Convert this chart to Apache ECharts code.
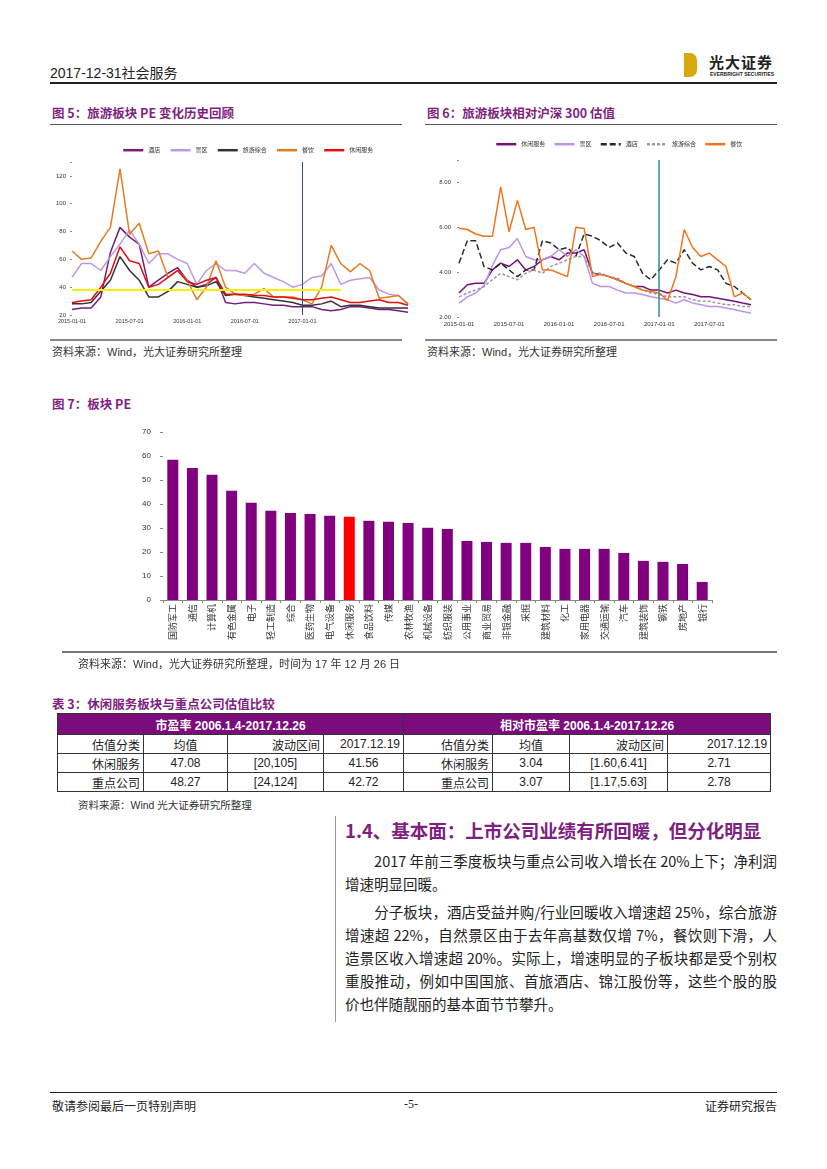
<!DOCTYPE html>
<html><head><meta charset="utf-8">
<script src="https://cdn.jsdelivr.net/npm/echarts@6/dist/echarts.min.js"></script>
<style>
body{margin:0;width:827px;height:1169px;background:#fff;position:relative;font-family:"Liberation Sans","Noto Sans CJK SC",sans-serif;color:#222;overflow:hidden}
.a{position:absolute;white-space:nowrap}
.ttl{font-family:"Noto Sans CJK SC";font-weight:bold;color:#7F1F7F;font-size:12.5px}
.src{font-family:"Liberation Sans","Noto Sans CJK SC";font-size:11px;color:#333}
.hl{position:absolute;height:1px;background:#555}
table{border-collapse:collapse;position:absolute;left:57px;top:713px;width:713px;table-layout:fixed;font-size:12px}
td{border:1px solid #333;padding:0 3px;height:18px;font-family:"Liberation Sans","Noto Sans CJK SC";white-space:nowrap}
td.h{background:#7B0C7B;color:#fff;font-weight:bold;text-align:center;height:20px;font-family:"Liberation Sans Narrow","Liberation Sans","Noto Sans CJK SC"}
td.r{text-align:right} td.c{text-align:center}
.body div{height:23px;line-height:23px;text-align:justify;text-align-last:justify;font-size:14.5px;font-family:"Noto Sans CJK SC"}
.body div.last{text-align-last:left}
</style></head><body>
<div class="a" style="left:50px;top:62px;font-size:14px;font-family:'Liberation Sans','Noto Sans CJK SC'">2017-12-31社会服务</div>
<div class="a" style="left:684px;top:53px;width:13px;height:24px;background:#D8A90C;border-radius:0 7px 7px 0"></div>
<div class="a" style="left:709px;top:51px;font-size:15px;font-weight:bold;font-family:'Noto Sans CJK SC';letter-spacing:1px">光大证券</div>
<div class="a" style="left:710px;top:71px;font-size:5px;font-weight:bold">EVERBRIGHT SECURITIES</div>
<div class="a" style="left:50px;top:82px;width:727px;height:2px;background:#222"></div>

<div class="a ttl" style="left:52px;top:103px">图 5：旅游板块 PE 变化历史回顾</div>
<div class="a ttl" style="left:427px;top:103px">图 6：旅游板块相对沪深 300 估值</div>
<div class="hl" style="left:50px;top:124px;width:352px"></div>
<div class="hl" style="left:425px;top:124px;width:352px"></div>
<div id="c5" class="a" style="left:40px;top:130px;width:380px;height:205px"></div>
<div id="c6" class="a" style="left:420px;top:130px;width:380px;height:205px"></div>
<div class="a" style="left:50px;top:339px;width:352px;height:2px;background:#888"></div>
<div class="a" style="left:425px;top:339px;width:352px;height:2px;background:#888"></div>
<div class="a src" style="left:52px;top:343px">资料来源：Wind，光大证券研究所整理</div>
<div class="a src" style="left:427px;top:343px">资料来源：Wind，光大证券研究所整理</div>

<div class="a ttl" style="left:52px;top:394px">图 7：板块 PE</div>
<div id="c7" class="a" style="left:50px;top:415px;width:727px;height:240px"></div>
<div class="a" style="left:62px;top:651px;width:715px;height:2px;background:#777"></div>
<div class="a src" style="left:78px;top:655px">资料来源：Wind，光大证券研究所整理，时间为 17 年 12 月 26 日</div>

<div class="a ttl" style="left:52px;top:694px">表 3：休闲服务板块与重点公司估值比较</div>
<table>
<colgroup><col style="width:86px"><col style="width:84px"><col style="width:96px"><col style="width:80px"><col style="width:89px"><col style="width:77px"><col style="width:98px"><col style="width:103px"></colgroup>
<tr><td class="h" colspan="4">市盈率 2006.1.4-2017.12.26</td><td class="h" colspan="4">相对市盈率 2006.1.4-2017.12.26</td></tr>
<tr><td class="r">估值分类</td><td class="c">均值</td><td class="r">波动区间</td><td class="r">2017.12.19</td><td class="r">估值分类</td><td class="c">均值</td><td class="r">波动区间</td><td class="r">2017.12.19</td></tr>
<tr><td class="r">休闲服务</td><td class="c">47.08</td><td class="c">[20,105]</td><td class="c">41.56</td><td class="r">休闲服务</td><td class="c">3.04</td><td class="c">[1.60,6.41]</td><td class="c">2.71</td></tr>
<tr><td class="r">重点公司</td><td class="c">48.27</td><td class="c">[24,124]</td><td class="c">42.72</td><td class="r">重点公司</td><td class="c">3.07</td><td class="c">[1.17,5.63]</td><td class="c">2.78</td></tr>
</table>
<div class="a src" style="left:78px;top:797px;font-size:10.5px">资料来源：Wind 光大证券研究所整理</div>

<div class="a" style="left:335px;top:816px;width:1px;height:206px;background:#999"></div>
<div class="a" style="left:345px;top:817px;font-size:18.5px;font-weight:bold;color:#7F1F7F;font-family:'Noto Sans CJK SC'">1.4、基本面：上市公司业绩有所回暖，但分化明显</div>
<div class="a body" style="left:345px;top:849px;width:432px;white-space:normal">
<div>&#12288;&#12288;2017 年前三季度板块与重点公司收入增长在 20%上下；净利润</div>
<div class="last">增速明显回暖。</div>
<div style="margin-top:5px">&#12288;&#12288;分子板块，酒店受益并购/行业回暖收入增速超 25%，综合旅游</div>
<div>增速超 22%，自然景区由于去年高基数仅增 7%，餐饮则下滑，人</div>
<div>造景区收入增速超 20%。实际上，增速明显的子板块都是受个别权</div>
<div>重股推动，例如中国国旅、首旅酒店、锦江股份等，这些个股的股</div>
<div class="last">价也伴随靓丽的基本面节节攀升。</div>
</div>

<div class="a" style="left:50px;top:1092px;width:727px;height:1px;background:#222"></div>
<div class="a" style="left:52px;top:1097px;font-size:12px;font-family:'Noto Sans CJK SC'">敬请参阅最后一页特别声明</div>
<div class="a" style="left:404px;top:1097px;font-size:12px;font-family:'Liberation Serif'">-5-</div>
<div class="a" style="right:50px;top:1097px;font-size:12px;font-family:'Noto Sans CJK SC'">证券研究报告</div>

<script>
// ---------- data ----------
var MONTHS = ['2015-01-01','2015-02-01','2015-03-01','2015-04-01','2015-05-01','2015-06-01','2015-07-01','2015-08-01','2015-09-01','2015-10-01','2015-11-01','2015-12-01',
'2016-01-01','2016-02-01','2016-03-01','2016-04-01','2016-05-01','2016-06-01','2016-07-01','2016-08-01','2016-09-01','2016-10-01','2016-11-01','2016-12-01',
'2017-01-01','2017-02-01','2017-03-01','2017-04-01','2017-05-01','2017-06-01','2017-07-01','2017-08-01','2017-09-01','2017-10-01','2017-11-01','2017-12-01'];
var MARK_DATE = '2017-01-01';

// Figure 5: PE
var PE_NAMES = ['酒店','景区','旅游综合','餐饮','休闲服务'];
var PE_HOTEL   = [24,25,25,33,65,83,76,71,40,45,50,54,45,40,42,47,29,28,29,29,28,27,27,26,26,26,24,23,24,26,26,25,24,24,23,22];
var PE_SCENIC  = [47,57,57,52,62,71,81,71,57,64,64,60,57,42,52,57,52,52,50,57,50,47,44,40,42,47,48,57,42,45,46,47,38,35,34,28];
var PE_TOUR    = [28,28,29,37,45,62,52,45,33,33,37,44,42,40,41,44,34,35,34,33,32,31,30,29,27,27,28,30,26,27,27,26,25,25,25,25];
var PE_FOOD    = [66,60,61,73,83,125,78,86,64,66,47,52,45,31,40,59,40,35,34,35,39,33,33,33,31,28,40,70,57,51,57,52,32,33,34,28];
var PE_LEISURE = [29,30,31,40,50,69,59,57,40,42,47,52,44,42,45,47,35,35,35,34,34,33,33,32,31,31,32,33,31,29,29,30,31,29,29,27];
var PE_YELLOW_LEVEL = 38, PE_YELLOW_END = '2017-05-01';

// Figure 6: relative to HS300
var REL_NAMES = ['休闲服务','景区','酒店','旅游综合','餐饮'];
var REL_LEISURE = [3.07,3.44,3.5,3.5,4.1,4.4,4.25,4.55,4.1,4.25,4.55,4.7,4.55,4.85,4.85,5.0,3.95,3.9,3.8,3.66,3.5,3.36,3.36,3.2,3.2,3.07,3.2,3.07,3.0,2.9,2.9,2.84,2.77,2.7,2.62,2.55];
var REL_SCENIC  = [2.62,2.9,3.07,3.4,4.3,5.0,5.1,5.5,4.7,4.55,4.55,4.7,5.0,4.7,5.0,4.7,3.5,3.36,3.36,3.2,3.07,3.07,3.0,2.9,2.84,2.77,2.62,2.77,2.62,2.55,2.47,2.47,2.4,2.33,2.25,2.18];
var REL_HOTEL   = [4.4,5.4,5.4,4.25,4.1,4.4,4.1,3.8,4.1,4.1,5.4,5.3,5.0,5.1,4.7,5.7,5.6,5.4,5.1,5.3,4.85,4.7,3.95,3.66,4.1,4.55,4.4,5.0,4.4,4.1,4.25,4.1,3.5,3.36,3.07,2.77];
var REL_TOUR    = [2.9,3.07,3.2,3.36,3.66,3.95,3.8,3.66,3.95,4.1,3.95,4.25,4.4,4.55,4.7,4.7,3.95,3.95,3.8,3.73,3.5,3.36,3.2,3.07,3.0,2.9,2.9,2.9,2.77,2.7,2.7,2.62,2.55,2.55,2.47,2.47];
var REL_FOOD    = [5.96,5.9,5.7,5.6,5.6,7.8,5.8,7.2,5.9,6.0,4.1,4.1,3.95,3.8,6.0,5.95,3.8,3.9,3.8,3.66,3.5,3.36,3.2,3.14,3.07,2.74,3.8,5.9,5.1,4.7,4.85,4.55,4.25,2.9,3.07,2.77];

// Figure 7: sector PE
var INDUSTRIES = ['国防军工','通信','计算机','有色金属','电子','轻工制造','综合','医药生物','电气设备','休闲服务','食品饮料','传媒','农林牧渔','机械设备','纺织服装','公用事业','商业贸易','非银金融','采掘','建筑材料','化工','家用电器','交通运输','汽车','建筑装饰','钢铁','房地产','银行'];
var SECTOR_PE = [58.4,55.0,52.2,45.5,40.5,37.2,36.3,35.8,35.1,34.7,33.0,32.6,32.1,30.1,29.6,24.6,24.2,23.8,23.8,22.1,21.3,21.3,21.3,19.6,16.3,15.9,15.0,7.5];
var HIGHLIGHT = '休闲服务';

// ---------- charts ----------
var FONT = '"Liberation Sans","Noto Sans CJK SC",sans-serif';
function line(name, data, color, type, w){
  return {name:name,type:'line',data:data,symbol:'none',showSymbol:false,smooth:false,
    lineStyle:{color:color,width:w||1.5,type:type||'solid'},itemStyle:{color:color}};
}
function legendOf(names, top, left, gap){
  return {data:names,top:top,left:left,itemWidth:20,itemHeight:8,itemGap:gap,
    itemStyle:{opacity:0},lineStyle:{width:2.5},
    textStyle:{fontSize:6,color:'#333',fontFamily:FONT}};
}

var c5 = echarts.init(document.getElementById('c5'), null, {renderer:'canvas'});
var s5 = [
  line(PE_NAMES[0], PE_HOTEL, '#7A1A7A'),
  line(PE_NAMES[1], PE_SCENIC, '#BE98E6'),
  line(PE_NAMES[2], PE_TOUR, '#333333'),
  line(PE_NAMES[3], PE_FOOD, '#E27D22'),
  line(PE_NAMES[4], PE_LEISURE, '#E80C0C')
];
s5[0].markLine = {symbol:'none',silent:true,label:{show:false},animation:false,
  lineStyle:{color:'#33507F',width:1,type:'solid'},data:[{xAxis:MARK_DATE}]};
s5[4].markLine = {symbol:'none',silent:true,label:{show:false},animation:false,
  lineStyle:{color:'#F5F000',width:2,type:'solid'},
  data:[[{coord:[MONTHS[0],PE_YELLOW_LEVEL]},{coord:[PE_YELLOW_END,PE_YELLOW_LEVEL]}]]};
c5.setOption({
  animation:false,
  textStyle:{fontFamily:FONT},
  legend:legendOf(PE_NAMES,12,77,9),
  grid:{left:32,top:32,width:336,height:153},
  xAxis:{type:'category',data:MONTHS,boundaryGap:false,
    axisLine:{show:false},axisTick:{show:false},
    axisLabel:{interval:5,fontSize:5.5,color:'#333',margin:4,showMaxLabel:false}},
  yAxis:{type:'value',min:20,max:130,interval:20,splitLine:{show:false},
    axisLine:{show:false},axisTick:{show:true,length:2,lineStyle:{color:'#888'}},
    axisLabel:{fontSize:6,color:'#333',margin:6,formatter:function(v){return v>120?'':String(v);}}},
  series:s5
});

var c6 = echarts.init(document.getElementById('c6'), null, {renderer:'canvas'});
var s6 = [
  line(REL_NAMES[0], REL_LEISURE, '#7A0F7A'),
  line(REL_NAMES[1], REL_SCENIC, '#BB95EC'),
  line(REL_NAMES[2], REL_HOTEL, '#2A2A2A', [6,3]),
  line(REL_NAMES[3], REL_TOUR, '#9A9A9A', [3,2]),
  line(REL_NAMES[4], REL_FOOD, '#F2741C')
];
s6[0].markLine = {symbol:'none',silent:true,label:{show:false},animation:false,
  lineStyle:{color:'#2E8E8E',width:1.5,type:'solid'},data:[{xAxis:MARK_DATE}]};
c6.setOption({
  animation:false,
  textStyle:{fontFamily:FONT},
  legend:legendOf(REL_NAMES,6,70,8),
  grid:{left:39,top:30,width:292,height:157},
  xAxis:{type:'category',data:MONTHS,boundaryGap:false,
    axisLine:{show:false},axisTick:{show:false},
    axisLabel:{interval:5,fontSize:6,color:'#333',margin:4}},
  yAxis:{type:'value',min:2,max:9,interval:2,splitLine:{show:false},
    axisLine:{show:false},axisTick:{show:true,length:2,lineStyle:{color:'#888'}},
    axisLabel:{fontSize:6,color:'#333',margin:8,formatter:function(v){return v>8?'':v.toFixed(2);}}},
  series:s6
});

var c7 = echarts.init(document.getElementById('c7'), null, {renderer:'canvas'});
c7.setOption({
  animation:false,
  textStyle:{fontFamily:FONT},
  grid:{left:113,top:17,width:549,height:168},
  xAxis:{type:'category',data:INDUSTRIES,
    axisLine:{lineStyle:{color:'#888',width:1}},
    axisTick:{show:true,length:3,lineStyle:{color:'#888'}},
    axisLabel:{interval:0,rotate:90,fontSize:9,color:'#333',margin:4,fontFamily:'"Noto Sans CJK SC"'}},
  yAxis:{type:'value',min:0,max:70,interval:10,splitLine:{show:false},
    axisLine:{show:false},axisTick:{show:true,length:3,lineStyle:{color:'#888'}},
    axisLabel:{fontSize:8,color:'#333',margin:12}},
  series:[{type:'bar',data:SECTOR_PE,barWidth:11,
    itemStyle:{color:function(p){return INDUSTRIES[p.dataIndex]===HIGHLIGHT?'#FF0000':'#800080';}}}]
});
</script>
</body></html>
